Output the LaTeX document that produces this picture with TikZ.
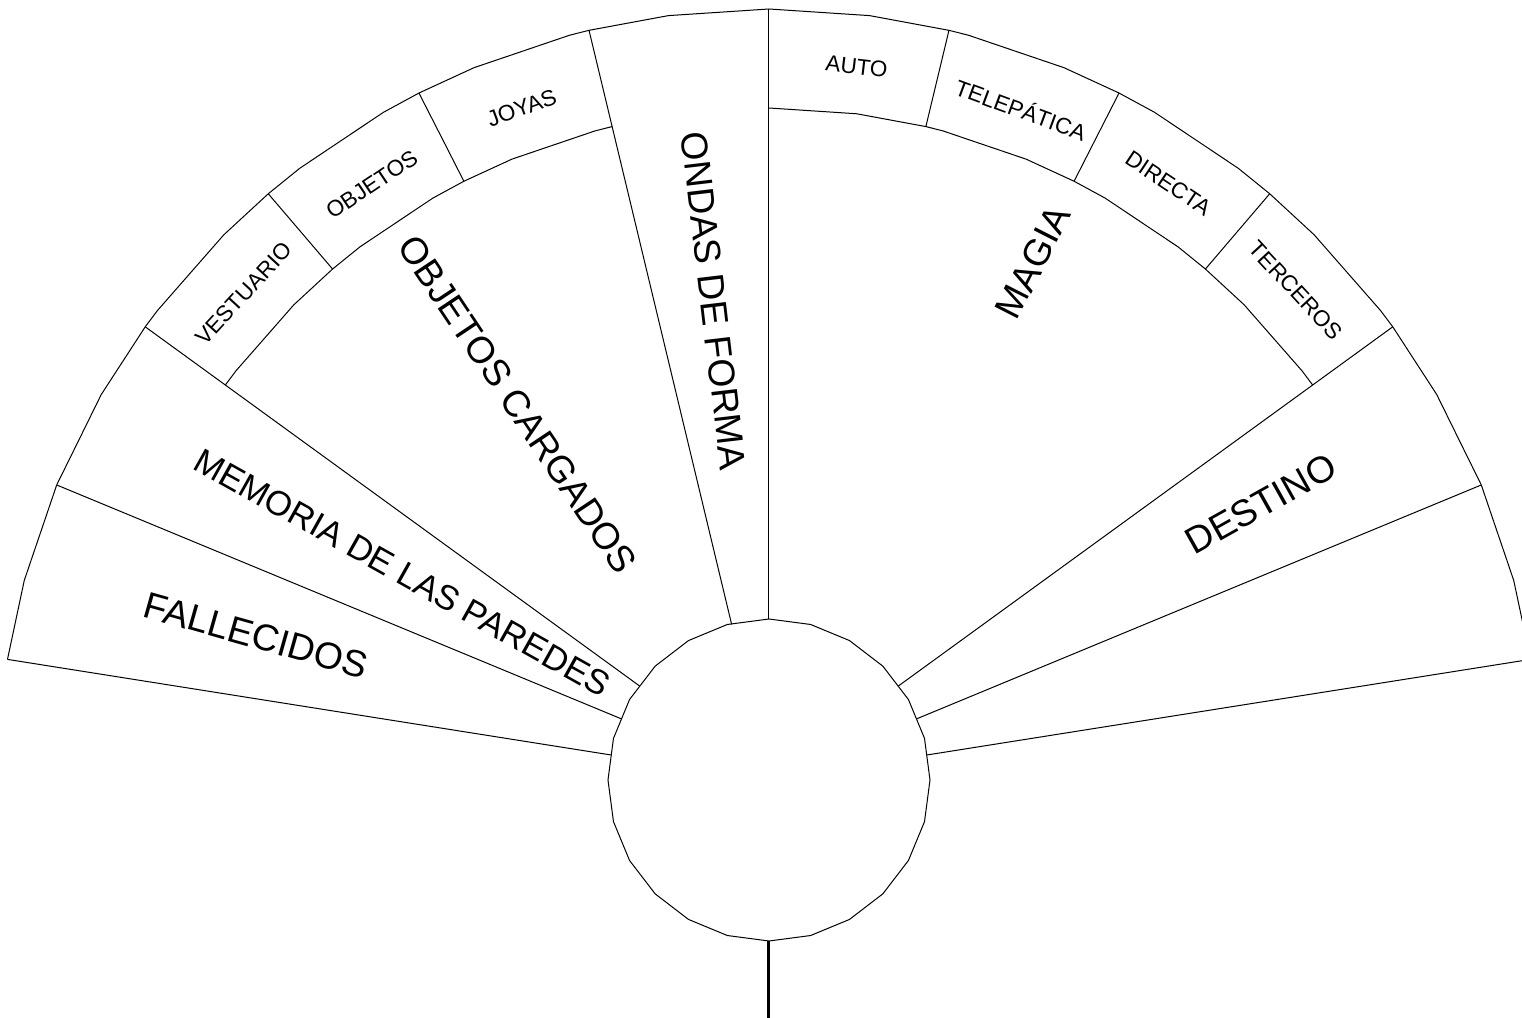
\documentclass[tikz,border=0pt]{standalone}
\usepackage{fontspec}
\setmainfont{Liberation Sans}
\begin{document}
\begin{tikzpicture}[x=0.5pt,y=0.5pt,line width=0.5pt,
  big/.style={font=\fontsize{18.65}{20}\selectfont,inner sep=0pt},
  mid/.style={font=\fontsize{17.3}{19}\selectfont,inner sep=0pt},
  small/.style={font=\fontsize{11.25}{13}\selectfont,inner sep=0pt},
  stem/.style={line width=1.5pt}]
\useasboundingbox (-769,-238) rectangle (753,780);
\clip (-769,-238) rectangle (753,780);
\def\R{771}
\def\r{672}
\def\c{161}
% outer arc
\draw (9:\R) \foreach \a in {15,22.5,30,36,37.5,45,49.5,52.5,60,63,67.5,75,76.5,82.5,90,97.5,103.5,105,112.5,117,120,127.5,130.5,135,142.5,144,150,157.5,165,171} { -- (\a:\R)};
% inner band arcs
\draw (36:\r) \foreach \a in {37.5,45,49.5,52.5,60,63,67.5,75,76.5,82.5,90} { -- (\a:\r)};
\draw (103.5:\r) \foreach \a in {105,112.5,117,120,127.5,130.5,135,142.5,144} { -- (\a:\r)};
% centre circle (24-gon)
\draw (0:\c) \foreach \a in {15,30,...,345} { -- (\a:\c)} -- cycle;
\coordinate (hub) at (270:\c);
\coordinate (foot) at (0,-238);
% radial lines
\foreach \a in {9,22.5,36,103.5,144,157.5,171} \draw (\a:160) -- (\a:\R);
\draw (90:\c) -- (90:\R);
% band dividers
\foreach \a in {49.5,63,76.5,117,130.5} \draw (\a:\r) -- (\a:\R);
% stem
\draw[stem] (hub) -- (foot);
% big labels
\node[big,rotate=-15.75] (fal) at (164.25:533) {FALLECIDOS};
\node[mid,rotate=-29.25] (mem) at (150.5:421) {MEMORIA DE LAS PAREDES};
\node[big,rotate=-56.25] (obc) at (123.8:452) {OBJETOS CARGADOS};
\node[big,rotate=-83.25] (ond) at (96.6:482) {ONDAS DE FORMA};
\node[big,rotate=63] (mag) at (63:581) {MAGIA};
\node[big,rotate=29.25] (des) at (29.3:564) {DESTINO};
% small labels
\node[small,rotate=47.25] (ves) at (137.2:716) {VESTUARIO};
\node[small,rotate=33.75] (obj) at (123.7:716) {OBJETOS};
\node[small,rotate=20.25] (joy) at (110.2:716) {JOYAS};
\node[small,rotate=-6.75] (aut) at (83:719) {AUTO};
\node[small,rotate=-20.25] (tel) at (69.4:717) {TELEPÁTICA};
\node[small,rotate=-33.75] (dir) at (56.2:718) {DIRECTA};
\node[small,rotate=-47.25] (ter) at (42.9:719) {TERCEROS};
\end{tikzpicture}
\end{document}
